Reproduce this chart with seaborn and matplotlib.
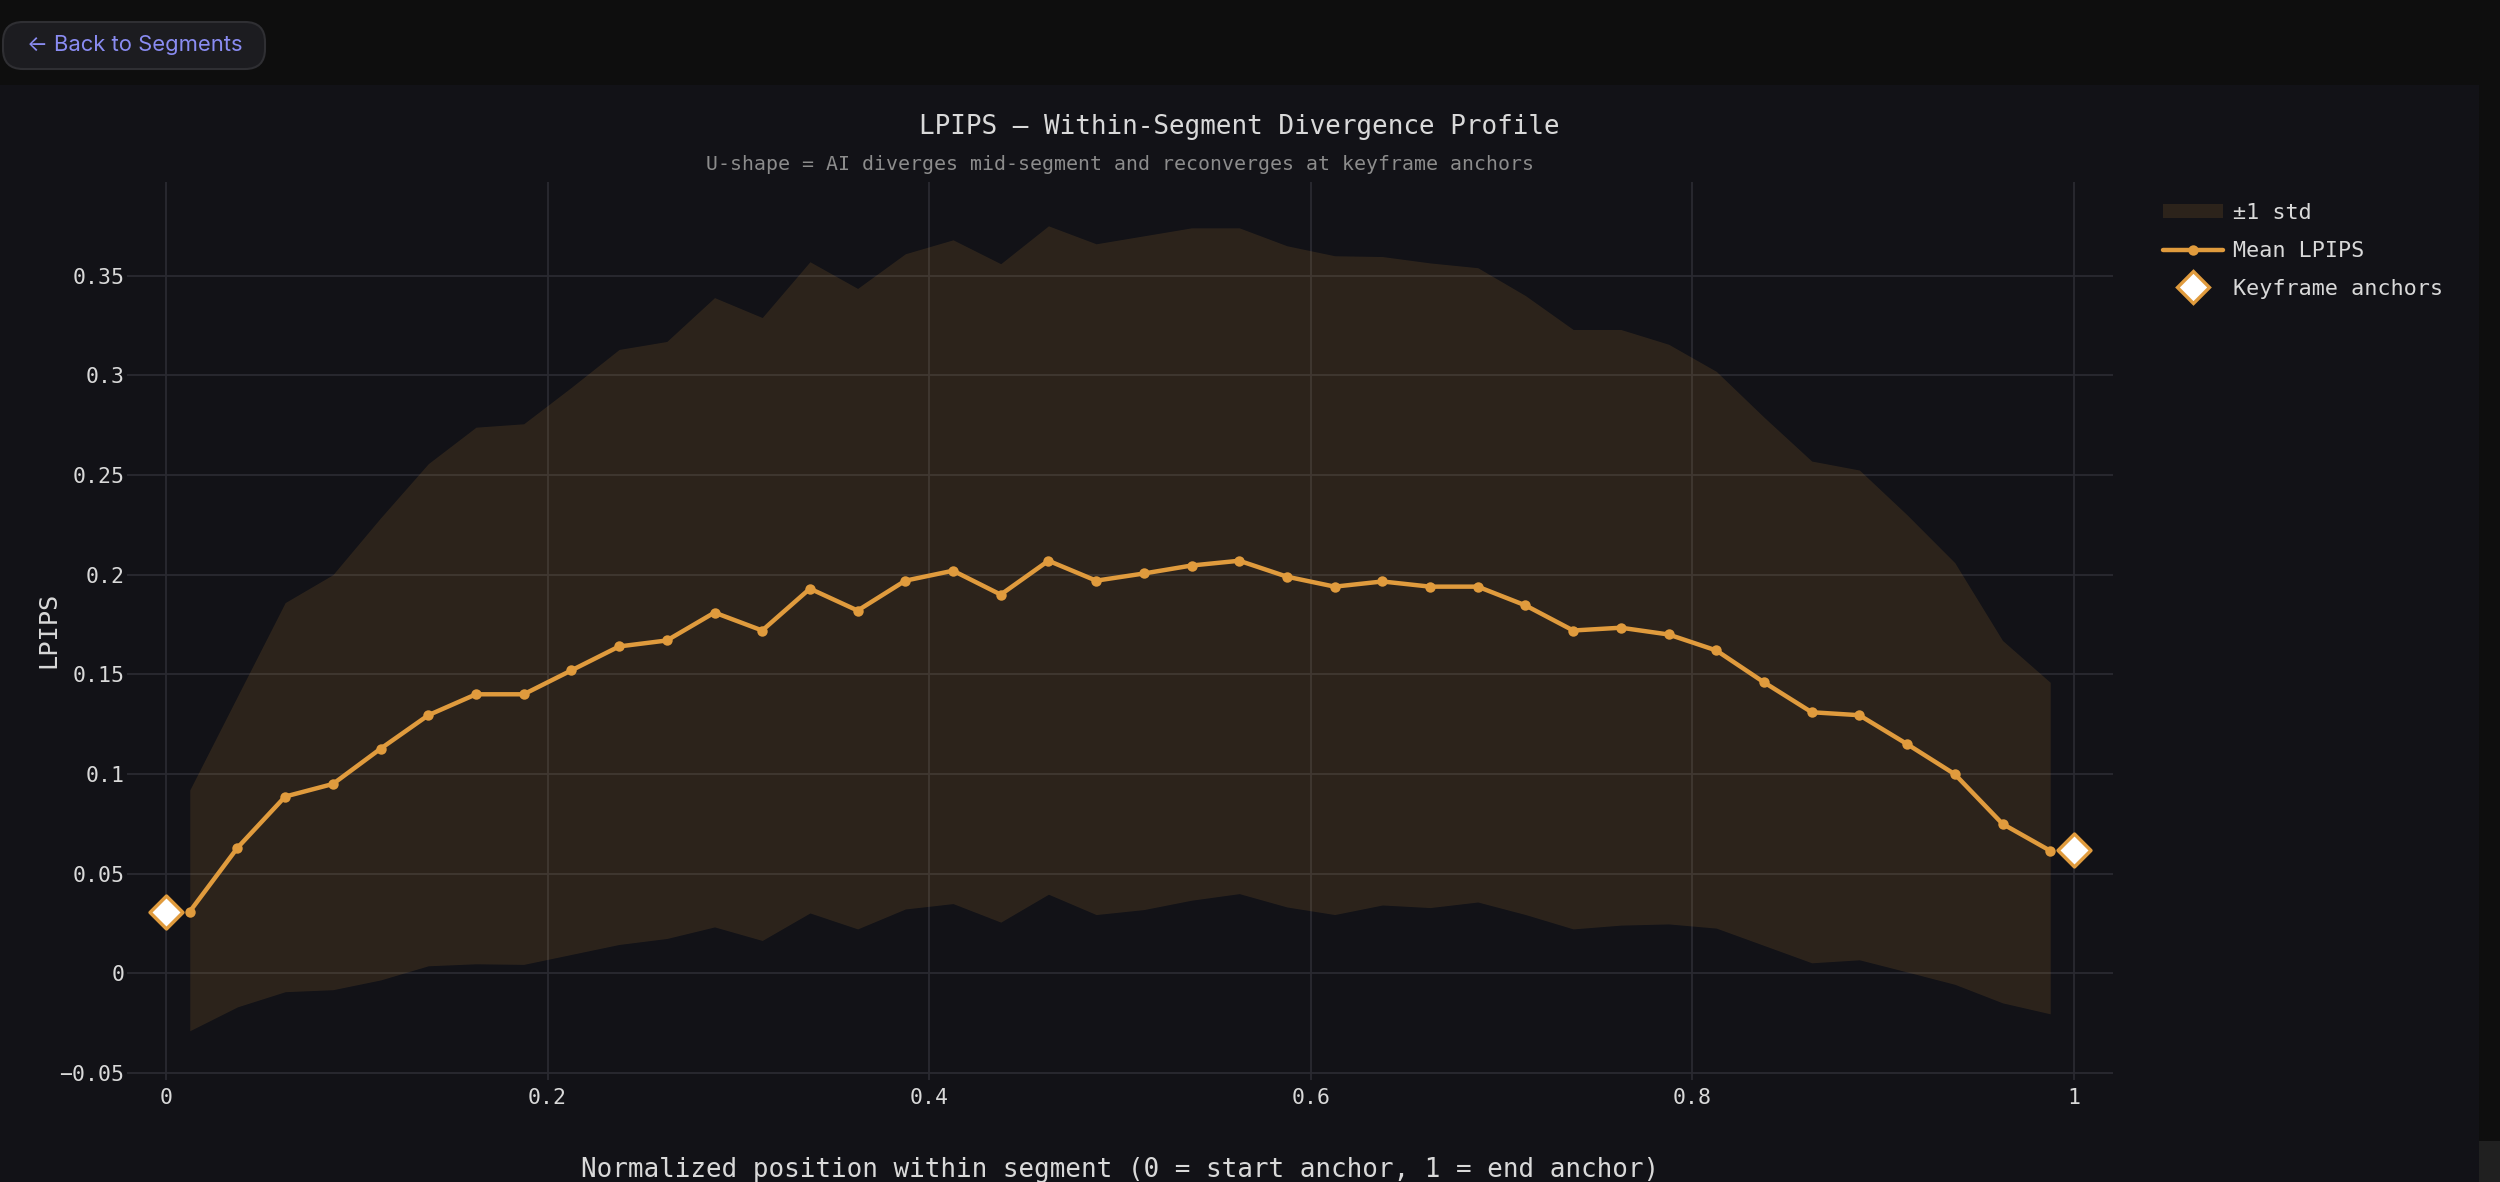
import matplotlib
matplotlib.use("Agg")
import matplotlib.pyplot as plt
from matplotlib.patches import FancyBboxPatch, Rectangle, Patch
from matplotlib.lines import Line2D
import seaborn as sns
import pandas as pd

# ---------------- data ----------------
positions = [0.0125, 0.0375, 0.0625, 0.0875, 0.1125, 0.1375, 0.1625, 0.1875,
             0.2125, 0.2375, 0.2625, 0.2875, 0.3125, 0.3375, 0.3625, 0.3875,
             0.4125, 0.4375, 0.4625, 0.4875, 0.5125, 0.5375, 0.5625, 0.5875,
             0.6125, 0.6375, 0.6625, 0.6875, 0.7125, 0.7375, 0.7625, 0.7875,
             0.8125, 0.8375, 0.8625, 0.8875, 0.9125, 0.9375, 0.9625, 0.9875]
mean_lpips = [0.031, 0.063, 0.0887, 0.095, 0.1127, 0.1295, 0.140, 0.140,
              0.152, 0.164, 0.167, 0.181, 0.172, 0.193, 0.182, 0.197,
              0.202, 0.190, 0.207, 0.197, 0.2006, 0.2046, 0.207, 0.199,
              0.194, 0.1966, 0.194, 0.194, 0.1846, 0.172, 0.1734, 0.170,
              0.162, 0.146, 0.131, 0.1295, 0.115, 0.0999, 0.075, 0.0615]
upper_band = [0.092, 0.139, 0.186, 0.200, 0.2285, 0.2557, 0.274, 0.2757,
              0.294, 0.313, 0.317, 0.339, 0.329, 0.357, 0.3436, 0.361,
              0.368, 0.356, 0.375, 0.366, 0.370, 0.374, 0.374, 0.365,
              0.360, 0.3596, 0.3564, 0.354, 0.340, 0.323, 0.323, 0.3156,
              0.302, 0.279, 0.257, 0.2525, 0.230, 0.206, 0.167, 0.146]
lower_band = [-0.0288, -0.0168, -0.0092, -0.0082, -0.0033, 0.0038, 0.0048, 0.0045,
              0.0095, 0.0145, 0.0175, 0.0233, 0.0165, 0.0303, 0.0223, 0.0323,
              0.035, 0.0257, 0.0397, 0.0295, 0.032, 0.0367, 0.040, 0.0333,
              0.0295, 0.0343, 0.033, 0.0358, 0.0295, 0.0223, 0.0242, 0.0248,
              0.0227, 0.014, 0.0053, 0.0068, 0.0007, -0.0055, -0.0148, -0.0203]
anchor_x = [0, 1]
anchor_y = [0.031, 0.062]

x_ticks = [0, 0.2, 0.4, 0.6, 0.8, 1]
x_tick_labels = ["0", "0.2", "0.4", "0.6", "0.8", "1"]
y_ticks = [-0.05, 0, 0.05, 0.1, 0.15, 0.2, 0.25, 0.3, 0.35]
y_tick_labels = ["\u22120.05", "0", "0.05", "0.1", "0.15", "0.2", "0.25", "0.3", "0.35"]

title = "LPIPS \u2014 Within-Segment Divergence Profile"
subtitle = "U-shape = AI diverges mid-segment and reconverges at keyframe anchors"
x_label = "Normalized position within segment (0 = start anchor, 1 = end anchor)"
y_label = "LPIPS"

# ---------------- style ----------------
PAGE_BG = "#0e0e0e"
PANEL_BG = "#121217"
GRID = "#2a2a31"
ORANGE = "#e09b3d"
TEXT = "#d9d9d9"
SUB = "#8c8c8c"

sns.set_theme(style="dark", rc={
    "axes.facecolor": PANEL_BG,
    "figure.facecolor": PAGE_BG,
    "axes.edgecolor": PANEL_BG,
    "text.color": TEXT,
    "xtick.color": TEXT,
    "ytick.color": TEXT,
    "axes.labelcolor": TEXT,
})
plt.rcParams["font.family"] = ["DejaVu Sans Mono", "DejaVu Sans"]

W, H = 2500, 1182
fig = plt.figure(figsize=(25, 11.82), dpi=100)

# page panel
fig.patches.append(Rectangle((0, 0), 2479 / W, 1 - 85 / H, transform=fig.transFigure,
                             facecolor=PANEL_BG, edgecolor="none", zorder=-10))
# scrollbar stub
fig.patches.append(Rectangle((2479 / W, 0), 21 / W, (H - 1141) / H, transform=fig.transFigure,
                             facecolor="#202020", edgecolor="none", zorder=-10))
# back button
fig.patches.append(FancyBboxPatch((3 / W, 1 - 69 / H), 262 / W, 47 / H,
                                  boxstyle="round,pad=0,rounding_size=0.008",
                                  transform=fig.transFigure, mutation_aspect=W / H,
                                  facecolor="#1c1c20", edgecolor="#2f2f33", linewidth=1.5,
                                  zorder=-5))
fig.text(27 / W, 1 - 45 / H, "\u2190 Back to Segments", color="#8a8cf2", fontsize=15.8,
         family=["Inter", "DejaVu Sans"], ha="left", va="center")

ax = fig.add_axes([127 / W, 1 - 1080 / H, (2113 - 127) / W, (1080 - 182) / H])
ax.set_facecolor(PANEL_BG)

df = pd.DataFrame({"pos": positions, "mean": mean_lpips,
                   "lo": lower_band, "hi": upper_band})
anchors = pd.DataFrame({"x": anchor_x, "y": anchor_y})

ax.fill_between(df["pos"], df["lo"], df["hi"], color=ORANGE, alpha=0.13,
                linewidth=0, zorder=2)
sns.lineplot(data=df, x="pos", y="mean", ax=ax, color=ORANGE, linewidth=3.2,
             marker="o", markersize=7.5, markeredgewidth=0, zorder=3)
sns.scatterplot(data=anchors, x="x", y="y", ax=ax, marker="D", s=280,
                color="white", edgecolor=ORANGE, linewidth=2.5, zorder=4, clip_on=False)

ax.set_xlim(-0.0204, 1.0204)
ax.set_ylim(-0.0535, 0.397)
ax.set_xticks(x_ticks)
ax.set_xticklabels(x_tick_labels)
ax.set_yticks(y_ticks)
ax.set_yticklabels(y_tick_labels)
ax.tick_params(axis="both", length=0, labelsize=15.5, colors=TEXT)
ax.tick_params(axis="y", pad=2)
ax.tick_params(axis="x", pad=6)
ax.grid(True, color=GRID, linewidth=1.3, zorder=0)
ax.set_axisbelow(True)
for s in ax.spines.values():
    s.set_visible(False)

ax.set_xlabel("")
ax.set_ylabel("")
fig.text(1120 / W, 1 - 1170 / H, x_label, fontsize=18.75, color=TEXT, ha="center", va="center")
fig.text(48 / W, 1 - 630 / H, y_label, fontsize=18.3, color=TEXT, ha="center", va="center",
         rotation=90)
fig.text(1239 / W, 1 - 127 / H, title, fontsize=18.7, color=TEXT, ha="center", va="center")
fig.text(1120 / W, 1 - 165 / H, subtitle, fontsize=14.3, color=SUB, ha="center", va="center")

handles = [
    Patch(facecolor=ORANGE, alpha=0.13, edgecolor="none", label="\u00b11 std"),
    Line2D([0], [0], color=ORANGE, linewidth=3.2, marker="o", markersize=7.5,
           markeredgewidth=0, label="Mean LPIPS"),
    Line2D([0], [0], color="none", marker="D", markersize=16, markerfacecolor="white",
           markeredgecolor=ORANGE, markeredgewidth=2.4, label="Keyframe anchors"),
]
leg = fig.legend(handles=handles, loc="upper left", bbox_to_anchor=(2163 / W, 1 - 203 / H),
                 frameon=False, fontsize=15.7, handlelength=2.75, handleheight=0.6,
                 handletextpad=0.45, labelspacing=0.82, borderpad=0, borderaxespad=0)
for t in leg.get_texts():
    t.set_color(TEXT)

fig.savefig("out.png", dpi=100, facecolor=PAGE_BG)
